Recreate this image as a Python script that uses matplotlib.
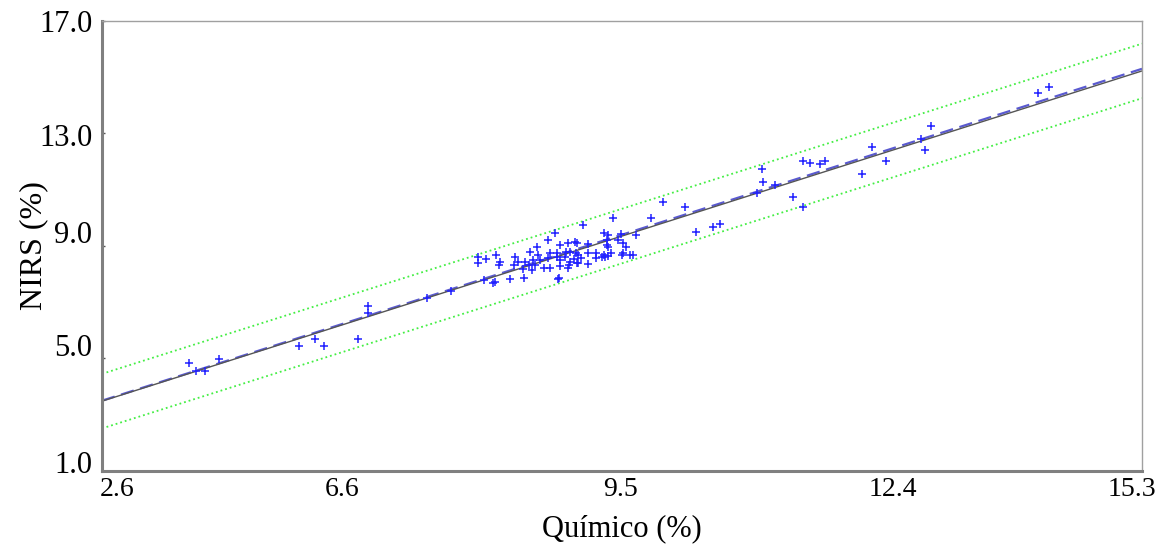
import numpy as np
import matplotlib
matplotlib.use("Agg")
import matplotlib.pyplot as plt

# valores (Químico %, NIRS %)
quimico = [
    4.49, 4.57, 4.67, 4.83, 5.74, 5.92, 6.02, 6.41, 6.52, 6.52, 7.19, 7.46,
    9.87, 10.11, 10.24, 9.73, 9.30, 8.96, 8.64, 9.20, 9.24, 9.39, 9.56, 8.56,
    8.44, 8.70, 8.79, 8.87, 8.89, 9.01, 9.23, 9.35, 9.41, 9.45, 8.36, 8.45,
    8.58, 8.66, 8.77, 8.88, 9.02, 9.11, 9.20, 9.28, 9.41, 9.49, 7.77, 7.86,
    7.97, 8.02, 8.19, 8.22, 8.30, 8.39, 8.47, 8.56, 8.66, 8.75, 8.85, 8.94,
    9.11, 9.21, 7.77, 8.17, 8.34, 8.41, 8.51, 8.58, 8.70, 8.80, 8.89, 8.28,
    8.13, 7.96, 7.83, 8.29, 8.67, 7.94, 8.38, 8.00, 9.23, 9.24, 9.17, 9.24,
    9.40, 9.53, 8.90, 8.81, 8.70, 8.81, 8.90, 9.02, 8.79, 8.68,
    10.43, 10.51, 10.99, 11.00, 10.93, 11.14, 11.34, 11.45, 11.45, 11.53,
    11.65, 11.70, 12.12, 12.24, 12.40, 12.79, 12.84, 12.91, 14.12, 14.24,
]
nirs = [
    4.85, 4.54, 4.56, 4.97, 5.44, 5.70, 5.44, 5.70, 6.88, 6.61, 7.15, 7.40,
    10.58, 10.40, 9.51, 9.98, 9.98, 9.75, 9.47, 9.45, 9.39, 9.43, 9.39, 9.21,
    8.98, 9.04, 9.10, 9.15, 9.10, 9.07, 9.04, 9.21, 9.10, 8.98, 8.80, 8.68,
    8.74, 8.76, 8.80, 8.76, 8.76, 8.74, 8.68, 8.74, 8.74, 8.68, 8.62, 8.53,
    8.68, 8.44, 8.60, 8.44, 8.44, 8.50, 8.50, 8.56, 8.62, 8.60, 8.53, 8.56,
    8.56, 8.60, 8.38, 8.32, 8.32, 8.32, 8.21, 8.21, 8.29, 8.32, 8.38, 8.17,
    7.82, 7.73, 7.79, 7.85, 7.83, 7.67, 8.15, 8.32, 9.21, 8.98, 8.62, 8.66,
    8.68, 8.68, 8.68, 8.80, 8.50, 8.44, 8.38, 8.35, 8.21, 7.85,
    9.66, 9.77, 11.73, 11.29, 10.87, 11.17, 10.75, 10.38, 12.03, 11.94,
    11.90, 12.03, 11.55, 12.51, 12.03, 12.79, 12.41, 13.27, 14.45, 14.64,
]

# recta de regresion y limites de prediccion
pendiente = 0.995
intercepto = 0.0
limite = 0.97

x_lim = (3.5, 15.3)
y_lim = (1.0, 17.0)
x_ticks = [3.67, 6.23, 9.38, 12.47, 15.19]
x_labels = ["2.6", "6.6", "9.5", "12.4", "15.3"]
y_ticks = [1.0, 5.0, 9.0, 13.0, 17.0]
# las etiquetas del eje Y aparecen algo desplazadas de sus marcas
y_label_pos = [1.32, 5.48, 9.5, 12.95, 17.0]
y_labels = ["1.0", "5.0", "9.0", "13.0", "17.0"]

plt.rcParams['font.family'] = ['Liberation Serif', 'DejaVu Serif']

fig = plt.figure(figsize=(11.6, 5.45), dpi=100)
ax = fig.add_axes([0.0879, 0.1358, 0.8966, 0.8257])

xx = np.array(x_lim)
ax.plot(xx, pendiente * xx + intercepto + limite, color='#44ee44', linestyle=':', linewidth=1.3)
ax.plot(xx, pendiente * xx + intercepto - limite, color='#44ee44', linestyle=':', linewidth=1.3)
ax.plot(xx, xx, color='#5a5ad0', linestyle='--', dashes=(6, 3), linewidth=1.6)
ax.plot(xx, pendiente * xx + intercepto, color='#555555', linestyle='-', linewidth=1.0)

ax.plot(quimico, nirs, linestyle='none', marker='+', markersize=5.5,
        markeredgewidth=1.1, color='#2020ff')

ax.set_xlim(*x_lim)
ax.set_ylim(*y_lim)
ax.set_xticks(x_ticks)
ax.set_xticklabels(x_labels, fontsize=20)
ax.tick_params(axis='x', length=0, pad=4)

# marcas en Y sin texto, etiquetas como ticks menores
ax.yaxis.remove_overlapping_locs = False
ax.set_yticks(y_ticks)
ax.set_yticklabels([])
ax.set_yticks(y_label_pos, minor=True)
ax.set_yticklabels(y_labels, minor=True, fontsize=22)
ax.tick_params(axis='y', which='major', direction='in', length=2, width=1, color='#555555')
ax.tick_params(axis='y', which='minor', length=0, pad=7)

for lado in ['left', 'bottom']:
    ax.spines[lado].set_linewidth(2.2)
    ax.spines[lado].set_color('#808080')
for lado in ['top', 'right']:
    ax.spines[lado].set_linewidth(1.0)
    ax.spines[lado].set_color('#a0a0a0')

ax.set_xlabel('Químico (%)', fontsize=22)
ax.set_ylabel('NIRS (%)', fontsize=23)
ax.xaxis.set_label_coords(0.5, -0.095)
ax.yaxis.set_label_coords(-0.052, 0.5)

fig.savefig('out.png', dpi=100)
